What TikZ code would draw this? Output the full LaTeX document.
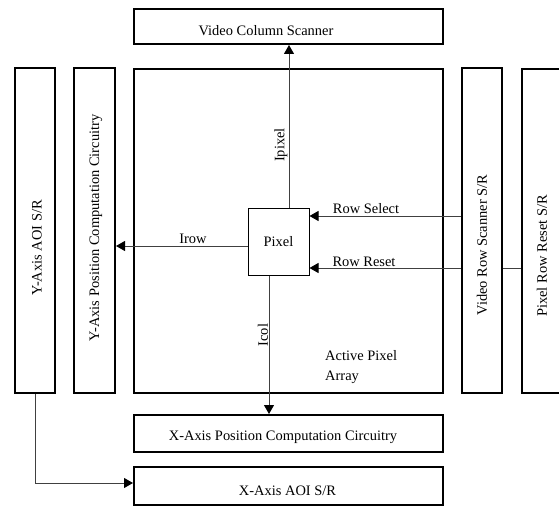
\documentclass[tikz,border=0pt]{standalone}
\usepackage{fontspec}
\setmainfont{Liberation Serif}
\usetikzlibrary{arrows.meta}
\begin{document}
\begin{tikzpicture}[x=1bp,y=-1bp,
  blk/.style={draw=black,line width=2bp,inner sep=0pt,fill=white},
  lbl/.style={inner sep=0pt,font=\fontsize{14.5}{17}\selectfont},
  conn/.style={draw=black!75,line width=1bp,-{Triangle[length=9bp,width=10bp,color=black]}},
  plain/.style={draw=black!75,line width=1bp}]
\useasboundingbox (0,0) rectangle (559,506);
\clip (0,0) rectangle (559,506);
% boxes
\node[blk,minimum width=309bp,minimum height=35bp] (vcs) at (288.5,26.5) {};
\node[blk,minimum width=309bp,minimum height=324bp] (apa) at (288.5,231) {};
\node[blk,minimum width=40bp,minimum height=325bp] (yaoi) at (35,230.5) {};
\node[blk,minimum width=41bp,minimum height=325bp] (ypos) at (94.5,230.5) {};
\node[blk,minimum width=40bp,minimum height=325bp] (vrs) at (482,230.5) {};
\node[blk,minimum width=80bp,minimum height=324bp] (prr) at (562,231) {};
\node[blk,minimum width=309bp,minimum height=37bp] (xpos) at (288.5,433.5) {};
\node[blk,minimum width=309bp,minimum height=38bp] (xaoi) at (288.5,486) {};
% box texts
\node[lbl] (tvcs) at (266,31) {Video Column Scanner};
\node[lbl] (txpos) at (283,437) {X-Axis Position Computation Circuitry};
\node[lbl] (txaoi) at (287.5,491) {X-Axis AOI S/R};
\node[lbl,rotate=90] (tyaoi) at (37,248) {Y-Axis AOI S/R};
\node[lbl,rotate=90] (typos) at (96,228) {Y-Axis Position Computation Circuitry};
\node[lbl,rotate=90] (tvrs) at (482,245) {Video Row Scanner S/R};
\node[lbl,rotate=90] (tprr) at (542,256) {Pixel Row Reset S/R};
\node[lbl,align=left,anchor=west,font=\fontsize{14.5}{20}\selectfont] (tapa) at (325,367) {Active Pixel\\Array};
% pixel
\node[draw=black,line width=1bp,fill=white,inner sep=0pt,minimum width=61bp,minimum height=66bp,font=\fontsize{14.5}{17}\selectfont] (pixel) at (278.5,242) {Pixel};
% connectors
\draw[conn] (pixel.north -| 289,0) -- (vcs.south -| 289,0);
\draw[conn] (pixel.west |- 0,246) -- (ypos.east |- 0,246);
\draw[conn] (pixel.south -| 269,0) -- (xpos.north -| 269,0);
\draw[conn] (vrs.west |- 0,216) -- (pixel.east |- 0,216);
\draw[conn] (vrs.west |- 0,268) -- (pixel.east |- 0,268);
\draw[plain] (prr.west |- 0,268) -- (vrs.east |- 0,268);
\draw[conn] (yaoi.south) -- (yaoi.south |- 0,483) -- (xaoi.west |- 0,483);
% connector labels
\node[lbl] (lrow) at (193,239) {Irow};
\node[lbl,rotate=90] (lpix) at (281,145) {Ipixel};
\node[lbl,rotate=90] (lcol) at (263,335) {Icol};
\node[lbl] (lsel) at (366,209) {Row Select};
\node[lbl] (lrst) at (364,262) {Row Reset};
\end{tikzpicture}
\end{document}
